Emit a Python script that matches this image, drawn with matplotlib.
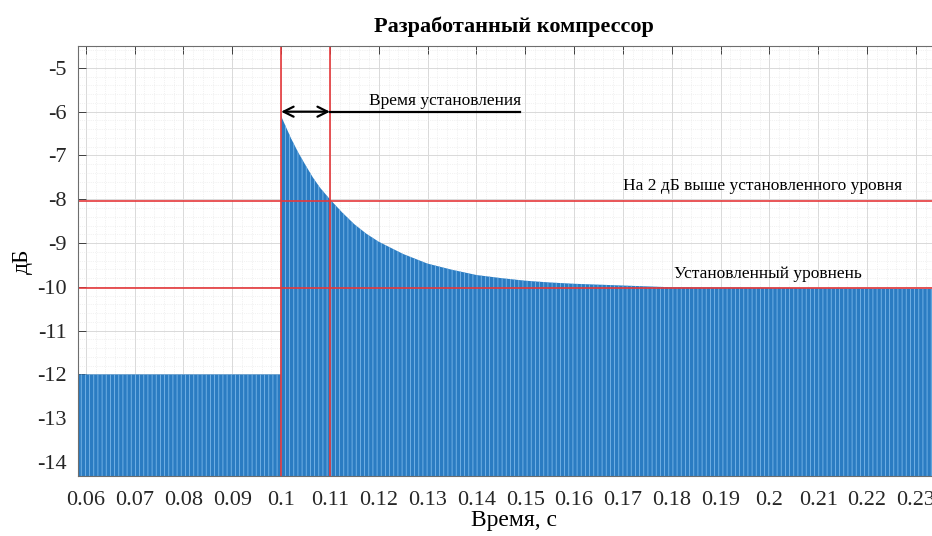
import numpy as np
import matplotlib
matplotlib.use("Agg")
import matplotlib.pyplot as plt
from matplotlib.ticker import MultipleLocator, FixedLocator

plt.rcParams['font.family'] = ['Liberation Serif', 'DejaVu Serif']
plt.rcParams['axes.unicode_minus'] = False
plt.rcParams['hatch.linewidth'] = 0.6

# Envelope of the signal level (dB)
t_env = [0.0584, 0.0999, 0.1000, 0.1010, 0.1020, 0.1035, 0.1050, 0.1065, 0.1080,
         0.1100, 0.1125, 0.1150, 0.1175, 0.1200, 0.1250, 0.1300, 0.1350,
         0.1400, 0.1450, 0.1500, 0.1550, 0.1600, 0.1650, 0.1700, 0.1800, 0.2400]
db_env = [-12.0, -12.0, -6.1, -6.35, -6.6, -6.93, -7.22, -7.5, -7.74,
          -8.0, -8.3, -8.57, -8.79, -8.97, -9.25, -9.47, -9.61,
          -9.73, -9.80, -9.86, -9.90, -9.93, -9.95, -9.97, -10.01, -10.05]

x_ticks = [0.06, 0.07, 0.08, 0.09, 0.1, 0.11, 0.12, 0.13, 0.14, 0.15, 0.16,
           0.17, 0.18, 0.19, 0.2, 0.21, 0.22, 0.23]
x_tick_labels = ['0.06', '0.07', '0.08', '0.09', '0.1', '0.11', '0.12', '0.13',
                 '0.14', '0.15', '0.16', '0.17', '0.18', '0.19', '0.2', '0.21',
                 '0.22', '0.23']
y_ticks = [-14, -13, -12, -11, -10, -9, -8, -7, -6, -5]

settle_start = 0.1
settle_end = 0.11
level_plus2 = -8.03
level_steady = -10.03
arrow_level = -6.0
arrow_line_end = 0.149

fig = plt.figure(figsize=(9.32, 5.36), dpi=100)
ax = fig.add_axes([78/932, 1 - 476/536, (950 - 78)/932, (476 - 46)/536])
ymin, ymax = -14.32, -4.5
ax.set_xlim(0.0584, 0.2370)
ax.set_ylim(ymin, ymax)

ax.fill_between(t_env, ymin, db_env, facecolor='#2b7cc2', edgecolor='#7bb8ea',
                hatch='||||', linewidth=0, zorder=2)

red = '#e5383b'
ax.axvline(settle_start, color=red, lw=1.2, zorder=4)
ax.axvline(settle_end, color=red, lw=1.2, zorder=4)
ax.axhline(level_plus2, color=red, lw=1.2, zorder=4)
ax.axhline(level_steady, color=red, lw=1.2, zorder=4)

ax.annotate('', xy=(settle_start, arrow_level), xytext=(settle_end, arrow_level),
            arrowprops=dict(arrowstyle='<->', color='black', lw=1.6,
                            shrinkA=0, shrinkB=0, mutation_scale=18), zorder=5)
ax.plot([settle_end, arrow_line_end], [arrow_level, arrow_level], color='black', lw=1.6, zorder=5)
ax.text(0.1335, -5.75, 'Время установления', ha='center', va='center', fontsize=12.5, zorder=6)
ax.text(0.1987, -7.7, 'На 2 дБ выше установленного уровня', ha='center', va='center',
        fontsize=12.5, zorder=6)
ax.text(0.1996, -9.7, 'Установленный уровнень', ha='center', va='center',
        fontsize=12.5, zorder=6)

ax.xaxis.set_major_locator(FixedLocator(x_ticks))
ax.set_xticklabels(x_tick_labels)
ax.yaxis.set_major_locator(FixedLocator(y_ticks))
ax.xaxis.set_minor_locator(MultipleLocator(0.002))
ax.yaxis.set_minor_locator(MultipleLocator(0.2))
ax.tick_params(which='both', direction='in', top=True, right=True, labelsize=16,
               colors='#262626')
ax.tick_params(which='major', length=6, width=0.6)
ax.tick_params(which='minor', length=0)
ax.tick_params(axis='x', pad=11)
ax.tick_params(axis='y', pad=8)
ax.grid(which='major', color='#d9d9d9', lw=0.7, zorder=1)
ax.grid(which='minor', color='#e6e6e6', lw=0.5, ls=':', zorder=1)
ax.set_axisbelow(True)
for s in ax.spines.values():
    s.set_color('#6e6e6e')
    s.set_linewidth(0.8)
    s.set_zorder(6)

ax.set_title('Разработанный компрессор', fontsize=16, fontweight='bold', pad=10)
ax.set_xlabel('Время, с', fontsize=17, labelpad=0)
ax.set_ylabel('дБ', fontsize=17, labelpad=3)

fig.savefig('out.png', dpi=100)
